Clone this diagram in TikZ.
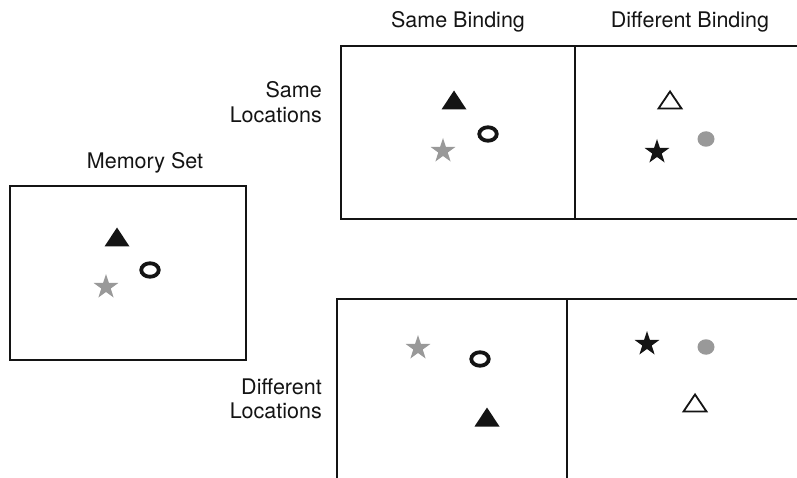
\documentclass[tikz,border=0pt]{standalone}
\usepackage{fontspec}
\setmainfont{TeX Gyre Heros}
\usetikzlibrary{shapes.geometric}
\definecolor{inkgray}{gray}{0.6}
\definecolor{ink}{gray}{0.08}
\tikzset{
  x=1pt, y=-1pt,
  frame/.style={line width=2pt, draw=ink},
  lbl/.style={font=\fontsize{21.5}{24.5}\selectfont, text=ink, inner sep=0pt},
  starmark/.style={star, star points=5, star point ratio=2.618, minimum size=26pt,
    inner sep=0pt, draw=none, fill=#1},
  dotmark/.style={ellipse, minimum width=17pt, minimum height=15.5pt, inner sep=0pt,
    draw=none, fill=inkgray},
  ringmark/.style={ellipse, minimum width=17.5pt, minimum height=13.5pt, inner sep=0pt,
    draw=ink, line width=3.8pt},
  blacktri/.pic={\fill[ink] (-12.5,9.5) -- (0,-9.5) -- (12.5,9.5) -- cycle;},
  opentri/.pic={\draw[ink, line width=1.8pt, line join=miter] (-11.5,8.5) -- (0,-8.5) -- (11.5,8.5) -- cycle;},
}
\begin{document}
\begin{tikzpicture}
\useasboundingbox (0,0) rectangle (797,478);

% column and row headings
\node[lbl] (hsame) at (458,22) {Same Binding};
\node[lbl] (hdiff) at (690,22) {Different Binding};
\node[lbl, align=right, anchor=east] (rsame) at (322,102) {Same\\Locations};
\node[lbl, align=right, anchor=east] (rdiff) at (322,399) {Different\\Locations};
\node[lbl] (hmem) at (145,163) {Memory Set};

% memory set panel
\draw[frame] (10,186) rectangle (246,360);
\pic at (117,237) {blacktri};
\node[ringmark] (mring) at (150,270) {};
\node[starmark=inkgray] (mstar) at (106,287) {};

% upper row of panels (open at the right)
\draw[frame] (797,46) -- (341,46) -- (341,219) -- (797,219);
\draw[frame] (575,46) -- (575,219);
\pic at (454,100) {blacktri};
\node[ringmark] (ssring) at (488,134) {};
\node[starmark=inkgray] (ssstar) at (443,151) {};
\pic at (670,100) {opentri};
\node[dotmark] (sddot) at (706,139) {};
\node[starmark=ink] (sdstar) at (657,152) {};

% lower row of panels (open at the right and bottom)
\draw[frame] (797,299) -- (337,299) -- (337,478);
\draw[frame] (567,299) -- (567,478);
\node[starmark=inkgray] (dsstar) at (418,348) {};
\node[ringmark] (dsring) at (480,359) {};
\pic at (487,417) {blacktri};
\node[starmark=ink] (ddstar) at (647,344) {};
\node[dotmark] (dddot) at (706,347) {};
\pic at (695,403) {opentri};
\end{tikzpicture}
\end{document}
